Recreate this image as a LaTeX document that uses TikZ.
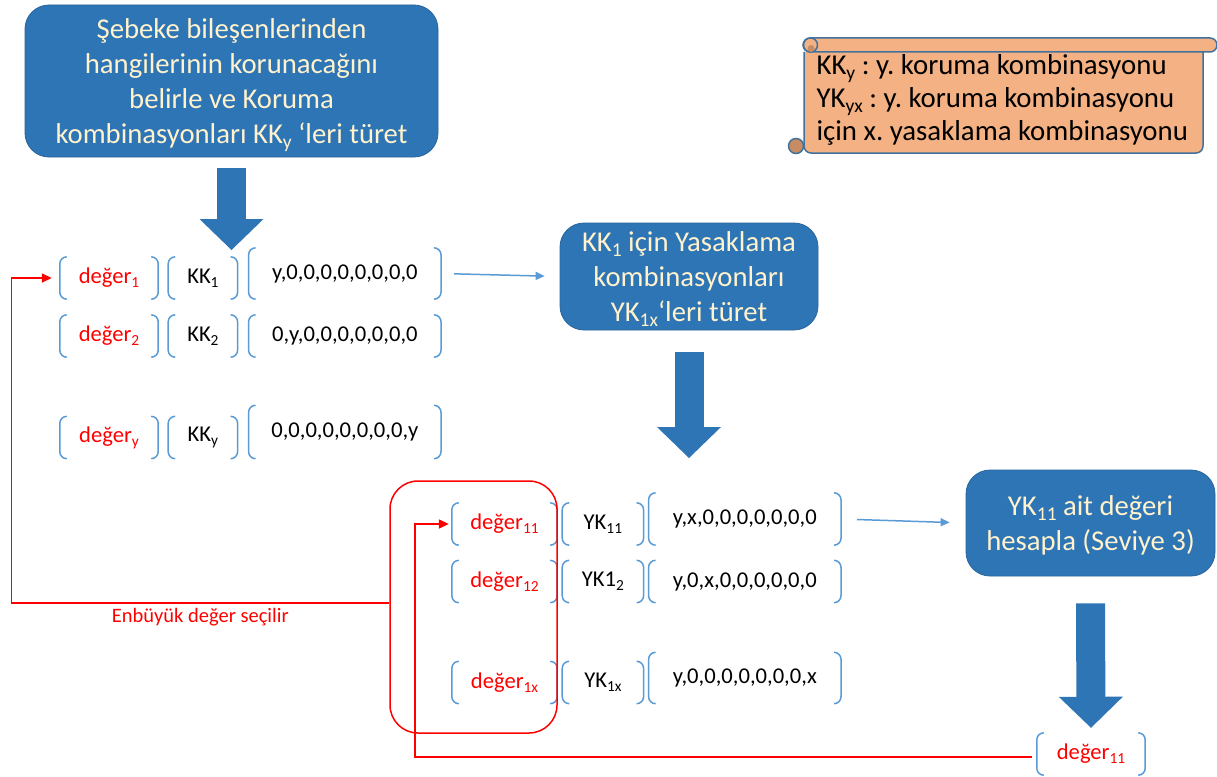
\documentclass[tikz,border=0pt]{standalone}
\usepackage{fontspec}
\setmainfont{Carlito}
\usetikzlibrary{arrows.meta,positioning}
\definecolor{boxblue}{RGB}{46,117,182}
\definecolor{boxedge}{RGB}{40,100,156}
\definecolor{cream}{RGB}{255,242,204}
\definecolor{brkblue}{RGB}{91,155,213}
\definecolor{scrollfill}{RGB}{244,177,131}
\definecolor{scrolldark}{RGB}{200,140,100}
\definecolor{scrolledge}{RGB}{65,113,156}
\newcommand\lo[1]{\raisebox{-0.18em}{\scalebox{0.68}{#1}}}
\frenchspacing

\begin{document}
\begin{tikzpicture}[x=1pt,y=-1pt,
  task/.style={fill=boxblue,draw=boxedge,line width=0.8pt,rounded corners=24pt,text=cream,align=center,
    font=\fontsize{28.7}{35}\selectfont,inner sep=0pt,text depth=0pt},
  row/.style={inner sep=0pt,minimum height=42,font=\fontsize{22.6}{26}\selectfont},
  val/.style={row,minimum width=98,text=red},
  kk/.style={row,minimum width=69},
  vec/.style={row,minimum width=192},
  brk/.style={draw=brkblue,line width=1.5pt,rounded corners=7pt},
  link/.style={draw=brkblue,line width=1.5pt,-{Triangle[length=9pt,width=8pt]}},
  loop/.style={draw=red,line width=1.5pt,-{Triangle[length=10pt,width=9pt]}},
  bigarrow/.style={draw=boxblue,line width=29pt,-{Triangle[width=64pt,length=31pt,line width=0pt]}},
  scrollpart/.style={fill=scrollfill,draw=scrolledge,line width=1.5pt}]
\fill[white] (0,0) rectangle (1217,776);
\useasboundingbox (0,0) rectangle (1217,776);

% note scroll
\filldraw[scrollpart,rounded corners=7] (804,52) -- (804,153) -- (1203,153) -- (1203,52);
\filldraw[scrollpart,fill=scrolldark] (796,146) circle (7.5);
\filldraw[scrollpart,rounded corners=7] (803,38) rectangle (1217,52);
\filldraw[scrollpart] (810.5,45) circle (7);
\fill[scrolldark] (811,48.5) circle (3.5);
\node[anchor=west,align=left,font=\fontsize{28.8}{33}\selectfont] (key) at (813,100)
  {KK\lo{y} : y. koruma kombinasyonu\\YK\lo{yx} : y. koruma kombinasyonu\\için x. yasaklama kombinasyonu};

% process boxes
\node[task,minimum width=413,minimum height=152] (top) at (231.5,81)
  {Şebeke bileşenlerinden\\hangilerinin korunacağını\\belirle ve Koruma\\kombinasyonları KK\lo{y} ‘leri türet};
\node[task,minimum width=258,minimum height=107] (gen) at (689,276.5)
  {KK\lo{1} için Yasaklama\\kombinasyonları\\YK\lo{1x}‘leri türet};
\node[task,minimum width=249,minimum height=106] (calc) at (1090.5,523)
  {YK\lo{11} ait değeri\\hesapla (Seviye 3)};

% protection combinations
\node[val] (v1) at (109,278) {değer\lo{1}};
\node[kk,right=10pt of v1] (k1) {KK\lo{1}};
\node[vec,minimum height=51,right=11pt of k1.south east,anchor=south west] (c1) {y,0,0,0,0,0,0,0,0};
\node[val] (v2) at (109,336) {değer\lo{2}};
\node[kk,right=10pt of v2] (k2) {KK\lo{2}};
\node[vec,right=11pt of k2.south east,anchor=south west] (c2) {0,y,0,0,0,0,0,0,0};
\node[val] (vy) at (109,437.5) {değer\lo{y}};
\node[kk,right=10pt of vy] (ky) {KK\lo{y}};
\node[vec,minimum height=53,right=11pt of ky.south east,anchor=south west] (cy) {0,0,0,0,0,0,0,0,y};

% prohibition combinations
\node[val,minimum width=105] (va) at (504.5,524) {değer\lo{11}};
\node[kk,minimum width=81,right=5pt of va] (ka) {YK\lo{11}};
\node[vec,minimum height=52,right=5pt of ka.south east,anchor=south west] (ca) {y,x,0,0,0,0,0,0,0};
\node[val,minimum width=105] (vb) at (504.5,581.5) {değer\lo{12}};
\node[kk,minimum width=81,right=5pt of vb] (kb) {YK1\lo{2}};
\node[vec,right=5pt of kb.south east,anchor=south west] (cb) {y,0,x,0,0,0,0,0,0};
\node[val,minimum width=105] (vx) at (504.5,682.5) {değer\lo{1x}};
\node[kk,minimum width=81,right=5pt of vx] (kx) {YK\lo{1x}};
\node[vec,minimum height=51,right=5pt of kx.south east,anchor=south west] (cx) {y,0,0,0,0,0,0,0,x};
\node[val,minimum width=108] (dr) at (1091,754) {değer\lo{11}};

\foreach \n in {v1,k1,c1,v2,k2,c2,vy,ky,cy,va,ka,ca,vb,kb,cb,vx,kx,cx,dr}{
  \draw[brk] ([xshift=7pt]\n.north west) -| (\n.south west) -- ([xshift=7pt]\n.south west);
  \draw[brk] ([xshift=-7pt]\n.north east) -| (\n.south east) -- ([xshift=-7pt]\n.south east);
}

\node[draw=red,line width=1.5pt,rounded corners=28pt,minimum width=167,minimum height=252] (pick) at (473.5,607) {};

% flow
\coordinate (t1) at (231.5,250);
\coordinate (t2) at (689,458);
\draw[bigarrow] ([yshift=-11pt]top.south) -- (t1);
\draw[bigarrow] ([yshift=-22pt]gen.south) -- (t2);
\draw[bigarrow] ([yshift=-27pt]calc.south) -- ([yshift=5pt]dr.north);
\draw[link,shorten <=13pt,shorten >=15pt] (c1.east) -- (gen.west);
\draw[link,shorten <=16pt,shorten >=16pt] (ca.east) -- (calc.west);
\draw[loop,shorten >=8pt] ([yshift=4pt]pick.west) -- ++(-378,0)
  node[midway,below=1pt,text=red,font=\fontsize{20.5}{24}\selectfont] {Enbüyük değer seçilir} |- (v1.west);
\draw[loop,shorten <=5pt,shorten >=3pt] ([yshift=-3pt]dr.west) -- ++(-622,0) |- (va.west);
\end{tikzpicture}
\end{document}
